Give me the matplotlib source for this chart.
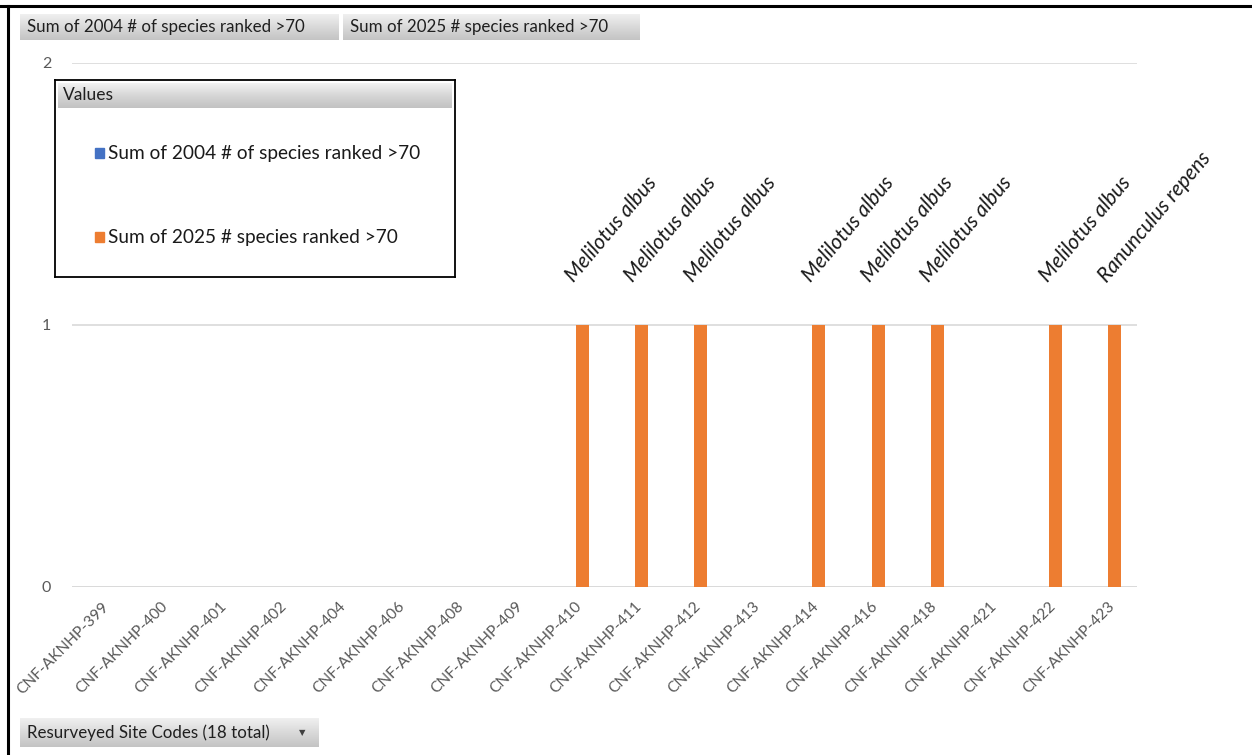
import numpy as np
import matplotlib
matplotlib.use("Agg")
import matplotlib.pyplot as plt
from matplotlib.patches import Rectangle

# ---- data -------------------------------------------------------------
sites = ["CNF-AKNHP-399", "CNF-AKNHP-400", "CNF-AKNHP-401", "CNF-AKNHP-402",
         "CNF-AKNHP-404", "CNF-AKNHP-406", "CNF-AKNHP-408", "CNF-AKNHP-409",
         "CNF-AKNHP-410", "CNF-AKNHP-411", "CNF-AKNHP-412", "CNF-AKNHP-413",
         "CNF-AKNHP-414", "CNF-AKNHP-416", "CNF-AKNHP-418", "CNF-AKNHP-421",
         "CNF-AKNHP-422", "CNF-AKNHP-423"]
count_2004 = [0, 0, 0, 0, 0, 0, 0, 0, 0, 0, 0, 0, 0, 0, 0, 0, 0, 0]
count_2025 = [0, 0, 0, 0, 0, 0, 0, 0, 1, 1, 1, 0, 1, 1, 1, 0, 1, 1]
species_2025 = ["", "", "", "", "", "", "", "",
                "Melilotus albus", "Melilotus albus", "Melilotus albus", "",
                "Melilotus albus", "Melilotus albus", "Melilotus albus", "",
                "Melilotus albus", "Ranunculus repens"]
series_names = ["Sum of 2004 # of species ranked >70",
                "Sum of 2025 # species ranked >70"]
y_ticks = [0, 1, 2]
field_button = "Resurveyed Site Codes (18 total)"

BLUE = "#4472C4"
ORANGE = "#ED7D31"
GREY_TXT = "#595959"
FONT = "Lato"

W, H = 1252, 755
fig = plt.figure(figsize=(W / 100, H / 100), dpi=100)
fig.patch.set_facecolor("white")


def px_axes(x0, y0, x1, y1, **kw):
    """Axes placed by pixel box (top-left origin)."""
    return fig.add_axes([x0 / W, 1 - y1 / H, (x1 - x0) / W, (y1 - y0) / H], **kw)


def gradient_button(x0, y0, x1, y1, label, fontsize=12, arrow=False):
    bax = px_axes(x0, y0, x1, y1)
    grad = np.linspace(0, 1, 64).reshape(-1, 1)
    cmap = matplotlib.colors.LinearSegmentedColormap.from_list(
        "btn", ["#f0f0f0", "#d9d9d9", "#c4c4c4"])
    bax.imshow(grad, aspect="auto", cmap=cmap, extent=[0, 1, 0, 1], origin="upper")
    bax.set_xlim(0, 1)
    bax.set_ylim(0, 1)
    bax.axis("off")
    bax.text(7 / (x1 - x0), 0.5, label, family=FONT, fontsize=fontsize,
             color="#1f1f1f", va="center", ha="left")
    if arrow:
        bax.text(1 - 16 / (x1 - x0), 0.5, "▼", family="DejaVu Sans",
                 fontsize=6, color="#404040", va="center", ha="center")
    return bax


# ---- plot area ----------------------------------------------------------
ax = px_axes(72, 63, 1137, 587)
x = np.arange(len(sites))
bar_w = 0.22
off = 0.125
ax.bar(x - off, count_2004, width=bar_w, color=BLUE, zorder=3)
ax.bar(x + off, count_2025, width=bar_w, color=ORANGE, zorder=3)

ax.set_xlim(-0.5, len(sites) - 0.5)
ax.set_ylim(0, 2)
ax.set_yticks(y_ticks)
ax.set_yticklabels([str(v) for v in y_ticks], family=FONT, fontsize=11.5,
                   color=GREY_TXT)
ax.set_xticks(x)
ax.set_xticklabels(sites, rotation=45, ha="right", rotation_mode="anchor",
                   family=FONT, fontsize=11.2, color=GREY_TXT)
ax.tick_params(axis="x", length=0, pad=9)
ax.tick_params(axis="y", length=0, pad=15)
for lbl in ax.get_xticklabels():
    lbl.set_x(lbl.get_position()[0])
ax.grid(axis="y", color="#d9d9d9", linewidth=1.2, zorder=0)
for s in ax.spines.values():
    s.set_visible(False)
ax.axhline(0, color="#d9d9d9", linewidth=1.2, zorder=1)

# species names above the 2025 bars
for xi, val, name in zip(x, count_2025, species_2025):
    if name:
        ax.annotate(name, xy=(xi + off, val), xytext=(-8, 42),
                    textcoords="offset pixels", rotation=50,
                    rotation_mode="anchor", ha="left", va="baseline",
                    family=FONT, style="italic", fontsize=15,
                    color="#1a1a1a", annotation_clip=False)

# ---- legend box ---------------------------------------------------------
lax = px_axes(55, 80, 455, 277)
lax.set_xlim(0, 400)
lax.set_ylim(197, 0)
lax.set_xticks([])
lax.set_yticks([])
for s in lax.spines.values():
    s.set_edgecolor("black")
    s.set_linewidth(1.3)
hdr = px_axes(58, 83, 452, 108)
grad = np.linspace(0, 1, 64).reshape(-1, 1)
hdr.imshow(grad, aspect="auto",
           cmap=matplotlib.colors.LinearSegmentedColormap.from_list(
               "hdr", ["#f2f2f2", "#d6d6d6", "#c2c2c2"]),
           extent=[0, 1, 0, 1], origin="upper")
hdr.axis("off")
hdr.text(0.012, 0.5, "Values", family=FONT, fontsize=12.5, color="#1f1f1f",
         va="center", ha="left")
for (yy, col, name) in [(73, BLUE, series_names[0]), (157, ORANGE, series_names[1])]:
    lax.add_patch(Rectangle((40, yy - 5), 9, 10, color=col))
    lax.text(53, yy, name, family=FONT, fontsize=13.7, color="#1a1a1a",
             va="center", ha="left")

# ---- pivot field buttons -----------------------------------------------
gradient_button(20, 14, 339, 40, series_names[0], fontsize=12.2)
gradient_button(343, 14, 640, 40, series_names[1], fontsize=12.2)
gradient_button(20, 718, 318, 747, field_button, fontsize=12.2, arrow=True)

# ---- outer frame ---------------------------------------------------------
fig.add_artist(plt.Line2D([0, 1], [1 - 5.5 / H, 1 - 5.5 / H],
                          transform=fig.transFigure, color="black", lw=2.2))
fig.add_artist(plt.Line2D([8 / W, 8 / W], [0, 1 - 5.5 / H],
                          transform=fig.transFigure, color="black", lw=2.2))

fig.savefig("out.png", dpi=100, facecolor="white")
